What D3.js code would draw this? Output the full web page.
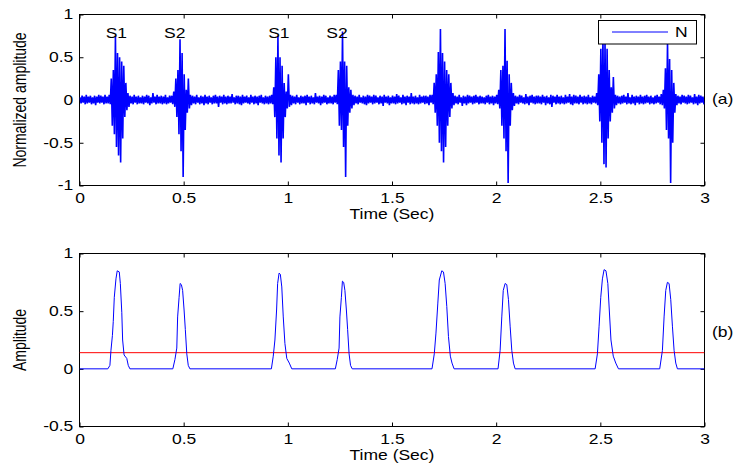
<!DOCTYPE html>
<html>
<head>
<meta charset="utf-8">
<script src="https://cdn.jsdelivr.net/npm/d3@7"></script>
<style>
  body { margin: 0; background: #fff; }
  svg { display: block; }
  text { font-family: "Liberation Sans", Arial, sans-serif; font-size: 14px; fill: #000; }
</style>
</head>
<body>
<svg id="chart" width="734" height="464"></svg>
<script>
const TEXT_STRETCH = 1.25;
const BIN_SEC = 0.01;
const PLOT_LEFT = 79.5;
const PLOT_RIGHT = 704.5;

const X_TICKS = [0, 0.5, 1, 1.5, 2, 2.5, 3];
const TOP_Y_TICKS = [-1, -0.5, 0, 0.5, 1];
const BOT_Y_TICKS = [-0.5, 0, 0.5, 1];

// (a) heart sound: max / min of the trace in each 10 ms bin, in hundredths
const SIG_HI = [
  3, 5, 4, 6, 4, 5, 3, 5, 4, 6,
  5, 4, 6, 4, 6, 25, 35, 75, 55, 50,
  45, 40, 20, 8, 5, 4, 6, 4, 5, 3,
  5, 4, 6, 5, 3, 8, 4, 6, 4, 5,
  4, 6, 3, 5, 5, 10, 25, 35, 71, 55,
  30, 12, 25, 6, 5, 4, 6, 3, 5, 4,
  6, 4, 5, 3, 5, 6, 4, 5, 4, 6,
  4, 5, 4, 7, 3, 5, 5, 4, 6, 4,
  5, 3, 6, 4, 5, 4, 5, 6, 3, 5,
  4, 5, 6, 15, 50, 75, 50, 40, 20, 10,
  30, 6, 5, 4, 6, 3, 5, 4, 5, 6,
  4, 5, 3, 8, 4, 5, 4, 6, 5, 3,
  5, 4, 6, 6, 35, 45, 80, 45, 40, 15,
  12, 6, 5, 4, 6, 3, 5, 4, 6, 5,
  4, 6, 5, 3, 5, 4, 6, 4, 5, 3,
  5, 4, 7, 5, 3, 6, 4, 5, 4, 8,
  4, 5, 3, 6, 4, 5, 5, 4, 6, 6,
  20, 30, 56, 83, 55, 45, 35, 30, 20, 8,
  5, 4, 6, 3, 5, 4, 6, 5, 4, 5,
  6, 4, 5, 4, 3, 5, 6, 4, 5, 4,
  6, 12, 35, 40, 83, 46, 30, 20, 8, 5,
  4, 6, 5, 3, 7, 4, 5, 6, 4, 5,
  5, 4, 6, 4, 5, 3, 6, 5, 4, 6,
  4, 5, 3, 6, 4, 7, 4, 6, 5, 4,
  6, 4, 5, 4, 6, 3, 5, 4, 8, 30,
  60, 75, 70, 60, 35, 15, 27, 6, 5, 4,
  5, 6, 4, 8, 3, 6, 4, 5, 4, 6,
  4, 5, 6, 4, 5, 3, 5, 6, 4, 7,
  12, 37, 68, 48, 35, 20, 7, 5, 4, 6,
  5, 4, 6, 5, 3, 7, 4, 6, 5, 4,
];
const SIG_LO = [
  -4, -3, -5, -4, -3, -5, -4, -6, -3, -4,
  -3, -5, -4, -4, -5, -30, -40, -55, -65, -73,
  -45, -20, -12, -8, -4, -5, -3, -5, -4, -4,
  -5, -3, -4, -6, -4, -3, -5, -4, -4, -5,
  -4, -5, -4, -3, -5, -8, -20, -40, -60, -90,
  -35, -15, -10, -6, -4, -5, -3, -5, -4, -6,
  -4, -5, -3, -5, -4, -4, -8, -3, -5, -4,
  -5, -4, -4, -3, -5, -4, -5, -6, -4, -3,
  -4, -5, -3, -5, -4, -6, -3, -4, -5, -4,
  -5, -4, -5, -20, -45, -65, -73, -45, -20, -10,
  -8, -6, -4, -5, -3, -5, -4, -4, -6, -3,
  -5, -4, -5, -3, -4, -6, -4, -3, -5, -4,
  -4, -5, -3, -5, -30, -35, -55, -90, -30, -15,
  -10, -6, -4, -5, -3, -4, -5, -6, -4, -3,
  -5, -4, -3, -5, -4, -7, -3, -4, -6, -4,
  -4, -5, -4, -3, -5, -4, -6, -3, -5, -4,
  -5, -4, -5, -4, -3, -5, -4, -6, -3, -5,
  -15, -30, -50, -60, -73, -55, -30, -20, -10, -6,
  -4, -5, -3, -7, -4, -6, -4, -3, -5, -4,
  -3, -5, -4, -4, -5, -3, -5, -4, -6, -4,
  -5, -10, -30, -45, -60, -97, -30, -12, -7, -4,
  -5, -3, -4, -5, -4, -6, -3, -4, -5, -4,
  -4, -5, -3, -6, -4, -5, -8, -3, -5, -4,
  -5, -4, -5, -4, -3, -5, -6, -4, -4, -5,
  -3, -5, -4, -5, -4, -5, -3, -4, -6, -25,
  -50, -75, -79, -45, -25, -15, -10, -6, -4, -5,
  -4, -3, -5, -4, -5, -4, -6, -3, -5, -4,
  -5, -4, -3, -5, -4, -5, -4, -3, -5, -6,
  -10, -35, -45, -97, -50, -15, -6, -4, -5, -3,
  -4, -5, -4, -3, -5, -4, -6, -4, -3, -5,
];

const SOUND_LABELS = ["S1", "S2", "S1", "S2"];
const SOUND_LABEL_T = [0.177, 0.457, 0.957, 1.236];
const SOUND_LABEL_Y = 0.72;
const LEGEND_LABEL = "N";

// (b) envelope, [time, amplitude], one S1/S2 peak per line
const ENVELOPE = [
  [0, 0],
  [0.136, 0], [0.146, 0.03], [0.151, 0.16], [0.158, 0.29], [0.162, 0.41], [0.167, 0.62], [0.175, 0.78], [0.181, 0.85], [0.191, 0.84], [0.196, 0.74], [0.203, 0.49], [0.207, 0.25], [0.214, 0.12], [0.227, 0.09], [0.234, 0.03], [0.242, 0],
  [0.448, 0], [0.458, 0.08], [0.467, 0.18], [0.471, 0.45], [0.478, 0.62], [0.483, 0.74], [0.489, 0.73], [0.495, 0.68], [0.502, 0.51], [0.508, 0.34], [0.515, 0.13], [0.522, 0.03], [0.530, 0],
  [0.921, 0], [0.930, 0.11], [0.938, 0.25], [0.946, 0.51], [0.951, 0.74], [0.958, 0.83], [0.964, 0.82], [0.971, 0.71], [0.978, 0.45], [0.986, 0.22], [0.995, 0.09], [1.007, 0.05], [1.019, 0],
  [1.228, 0], [1.237, 0.08], [1.246, 0.18], [1.250, 0.45], [1.257, 0.62], [1.262, 0.76], [1.268, 0.75], [1.274, 0.68], [1.281, 0.51], [1.287, 0.34], [1.294, 0.13], [1.301, 0.03], [1.309, 0],
  [1.692, 0], [1.703, 0.13], [1.711, 0.31], [1.720, 0.57], [1.727, 0.77], [1.739, 0.85], [1.747, 0.84], [1.755, 0.74], [1.763, 0.54], [1.771, 0.28], [1.780, 0.11], [1.788, 0.05], [1.798, 0],
  [2.009, 0], [2.019, 0.16], [2.027, 0.45], [2.034, 0.68], [2.043, 0.74], [2.051, 0.73], [2.059, 0.60], [2.067, 0.37], [2.075, 0.16], [2.083, 0.05], [2.091, 0],
  [2.475, 0], [2.486, 0.13], [2.494, 0.37], [2.502, 0.62], [2.510, 0.78], [2.518, 0.86], [2.527, 0.85], [2.536, 0.74], [2.543, 0.51], [2.551, 0.25], [2.562, 0.11], [2.574, 0.05], [2.587, 0],
  [2.785, 0], [2.798, 0.16], [2.806, 0.45], [2.814, 0.68], [2.822, 0.75], [2.830, 0.74], [2.838, 0.60], [2.846, 0.37], [2.854, 0.16], [2.862, 0.05], [2.870, 0],
  [3, 0],
];
const THRESHOLD = 0.14;

const svg = d3.select("#chart");

function stretched(sel) {
  return sel.attr("transform", function () {
    const prev = d3.select(this).attr("transform") || "";
    return prev + ` scale(${TEXT_STRETCH},1)`;
  });
}

function put_text(g, x, y, str, anchor) {
  return g
    .append("text")
    .attr("transform", `translate(${x},${y}) scale(${TEXT_STRETCH},1)`)
    .attr("text-anchor", anchor || "middle")
    .text(str);
}

function draw_axes(top, bottom, yDomain, yTicks, ylabel, tag, tagY) {
  const x = d3.scaleLinear().domain([0, 3]).range([PLOT_LEFT, PLOT_RIGHT]);
  const y = d3.scaleLinear().domain(yDomain).range([bottom, top]);
  const fmt = (d) => String(d);
  const g = svg.append("g");

  g.append("g")
    .attr("transform", `translate(0,${bottom})`)
    .call(d3.axisBottom(x).tickValues(X_TICKS).tickSize(-4).tickPadding(6).tickFormat(fmt))
    .call((a) => a.select(".domain").remove())
    .selectAll("text")
    .attr("dy", "0.85em")
    .call(stretched);
  g.append("g")
    .attr("transform", `translate(0,${top})`)
    .call(d3.axisTop(x).tickValues(X_TICKS).tickSize(-4).tickFormat(""))
    .call((a) => a.select(".domain").remove());
  g.append("g")
    .attr("transform", `translate(${PLOT_LEFT},0)`)
    .call(d3.axisLeft(y).tickValues(yTicks).tickSize(-4).tickPadding(5).tickFormat(fmt))
    .call((a) => a.select(".domain").remove())
    .selectAll("text")
    .call(stretched);
  g.append("g")
    .attr("transform", `translate(${PLOT_RIGHT},0)`)
    .call(d3.axisRight(y).tickValues(yTicks).tickSize(-4).tickFormat(""))
    .call((a) => a.select(".domain").remove());

  g.append("rect")
    .attr("x", PLOT_LEFT)
    .attr("y", top)
    .attr("width", PLOT_RIGHT - PLOT_LEFT)
    .attr("height", bottom - top)
    .attr("fill", "none")
    .attr("stroke", "#000")
    .attr("stroke-width", 1);

  put_text(g, (PLOT_LEFT + PLOT_RIGHT) / 2, bottom + 33, "Time (Sec)");
  g.append("text")
    .attr("transform", `translate(26,${(top + bottom) / 2}) scale(${TEXT_STRETCH},1) rotate(-90)`)
    .attr("text-anchor", "middle")
    .text(ylabel);
  put_text(g, 712, tagY, tag, "start");

  const clipId = "clip-" + tag.replace(/\W/g, "");
  svg.append("clipPath")
    .attr("id", clipId)
    .append("rect")
    .attr("x", PLOT_LEFT)
    .attr("y", top)
    .attr("width", PLOT_RIGHT - PLOT_LEFT)
    .attr("height", bottom - top);
  const plot = svg.append("g").attr("clip-path", `url(#${clipId})`);
  return { x: x, y: y, plot: plot, axes: g };
}

// panel (a)
const pa = draw_axes(14.5, 185.5, [-1, 1], TOP_Y_TICKS, "Normalized amplitude", "(a)", 104);
let trace = [];
SIG_HI.forEach((hi, i) => {
  trace.push([(i + 0.25) * BIN_SEC, hi / 100]);
  trace.push([(i + 0.75) * BIN_SEC, SIG_LO[i] / 100]);
});
pa.plot
  .append("path")
  .datum(trace)
  .attr("fill", "none")
  .attr("stroke", "#0000ff")
  .attr("stroke-width", 1.6)
  .attr("stroke-linejoin", "bevel")
  .attr("d", d3.line().x((d) => pa.x(d[0])).y((d) => pa.y(d[1])));

SOUND_LABELS.forEach((lab, i) => {
  put_text(svg, pa.x(SOUND_LABEL_T[i]), pa.y(SOUND_LABEL_Y), lab);
});

// legend sits on top of the trace
const leg = svg.append("g");
leg.append("rect")
  .attr("x", 598.5).attr("y", 20.5).attr("width", 98).attr("height", 23.5)
  .attr("fill", "#fff").attr("stroke", "#000").attr("stroke-width", 1);
leg.append("line")
  .attr("x1", 612).attr("x2", 668).attr("y1", 32).attr("y2", 32)
  .attr("stroke", "#0000ff").attr("stroke-width", 1);
put_text(leg, 675, 37, LEGEND_LABEL, "start");

// panel (b)
const pb = draw_axes(253.5, 426.5, [-0.5, 1], BOT_Y_TICKS, "Amplitude", "(b)", 336.5);
pb.plot
  .append("line")
  .attr("x1", pb.x(0)).attr("x2", pb.x(3))
  .attr("y1", pb.y(THRESHOLD)).attr("y2", pb.y(THRESHOLD))
  .attr("stroke", "#ff0000").attr("stroke-width", 1);
pb.plot
  .append("path")
  .datum(ENVELOPE)
  .attr("fill", "none")
  .attr("stroke", "#0000ff")
  .attr("stroke-width", 1)
  .attr("d", d3.line().x((d) => pb.x(d[0])).y((d) => pb.y(d[1])));
</script>
</body>
</html>
